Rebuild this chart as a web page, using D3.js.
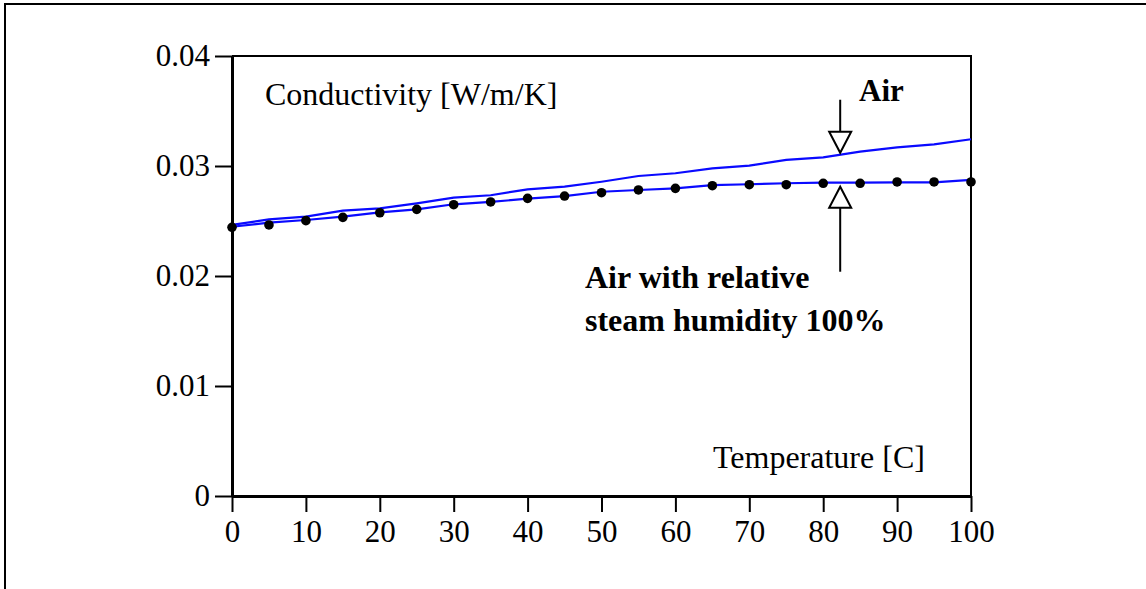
<!DOCTYPE html>
<html>
<head>
<meta charset="utf-8">
<script src="https://cdn.jsdelivr.net/npm/d3@7"></script>
<style>
  body { margin: 0; background: #fff; }
  svg { display: block; }
  text { font-family: "Liberation Serif", "Times New Roman", serif; fill: #000; }
</style>
</head>
<body>
<svg id="chart"></svg>
<script>
// Constants
const width = 1146, height = 589;

// Data (temperature in C, conductivity in W/m/K)
const temperatures = [0, 5, 10, 15, 20, 25, 30, 35, 40, 45, 50, 55, 60, 65, 70, 75, 80, 85, 90, 95, 100];
const airValues = [0.02464, 0.02515, 0.02539, 0.02594, 0.02615, 0.02661, 0.02712, 0.02734, 0.02788, 0.02812,
    0.02857, 0.02909, 0.02934, 0.02979, 0.03003, 0.03055, 0.03079, 0.03130, 0.03170, 0.03197, 0.03243];
const humidValues = [0.02448, 0.02485, 0.02509, 0.02539, 0.02579, 0.02606, 0.02652, 0.02673, 0.02703, 0.02727,
    0.02766, 0.02782, 0.02797, 0.02827, 0.02834, 0.02843, 0.02848, 0.02848, 0.02852, 0.02852, 0.02873];
const humidPoints = [0.02443, 0.02464, 0.02503, 0.02533, 0.02575, 0.02606, 0.02648, 0.02673, 0.02706, 0.02727,
    0.02757, 0.02782, 0.02797, 0.02821, 0.02830, 0.02830, 0.02843, 0.02843, 0.02855, 0.02855, 0.02855];
const xTicks = [0, 10, 20, 30, 40, 50, 60, 70, 80, 90, 100];
const yTicks = [0, 0.01, 0.02, 0.03, 0.04];
const arrowTemp = 82.3;

const svg = d3.select("#chart")
    .attr("width", width)
    .attr("height", height);

// outer frame (runs off the right and bottom edges)
svg.append("rect")
    .attr("x", 5).attr("y", 4)
    .attr("width", width + 20).attr("height", height + 20)
    .attr("fill", "none")
    .attr("stroke", "#000")
    .attr("stroke-width", 2);

const x = d3.scaleLinear().domain([0, 100]).range([232, 971]);
const y = d3.scaleLinear().domain([0, 0.04]).range([496, 56]);

// top and right border of the plot box
svg.append("path")
    .attr("d", `M${x(0)},${y(0.04)}H${x(100)}V${y(0)}`)
    .attr("fill", "none")
    .attr("stroke", "#000")
    .attr("stroke-width", 2);

// axes
const xAxis = svg.append("g")
    .attr("transform", `translate(0,${y(0)})`)
    .call(d3.axisBottom(x).tickValues(xTicks).tickSize(16).tickSizeOuter(0).tickPadding(8));

const yAxis = svg.append("g")
    .attr("transform", `translate(${x(0)},0)`)
    .call(d3.axisLeft(y).tickValues(yTicks).tickFormat(d => d).tickSize(17).tickSizeOuter(0).tickPadding(5));

[xAxis, yAxis].forEach(g => {
    g.select(".domain").attr("stroke", "#000").attr("stroke-width", 3);
    g.selectAll(".tick line").attr("stroke", "#000").attr("stroke-width", 2);
    g.selectAll(".tick text")
        .attr("fill", "#000")
        .style("font-family", "'Liberation Serif', 'Times New Roman', serif")
        .style("font-size", "31px");
});

// curves
const line = d3.line()
    .x((d, i) => x(temperatures[i]))
    .y(d => y(d));

svg.append("path")
    .datum(airValues)
    .attr("d", line)
    .attr("fill", "none")
    .attr("stroke", "#0a0aff")
    .attr("stroke-width", 2.2);

svg.append("path")
    .datum(humidValues)
    .attr("d", line)
    .attr("fill", "none")
    .attr("stroke", "#0a0aff")
    .attr("stroke-width", 2.2);

svg.append("g")
    .selectAll("circle")
    .data(humidPoints)
    .join("circle")
    .attr("cx", (d, i) => x(temperatures[i]))
    .attr("cy", d => y(d))
    .attr("r", 4.8)
    .attr("fill", "#000");

// labels
svg.append("text")
    .attr("x", 265).attr("y", 105)
    .style("font-size", "32px")
    .text("Conductivity [W/m/K]");

svg.append("text")
    .attr("x", 713).attr("y", 468)
    .style("font-size", "32px")
    .text("Temperature [C]");

svg.append("text")
    .attr("x", 859).attr("y", 101)
    .style("font-size", "31px")
    .style("font-weight", "bold")
    .text("Air");

svg.append("text")
    .attr("x", 585).attr("y", 288)
    .style("font-size", "32px")
    .style("font-weight", "bold")
    .text("Air with relative");

svg.append("text")
    .attr("x", 585).attr("y", 331)
    .style("font-size", "32px")
    .style("font-weight", "bold")
    .text("steam humidity 100%");

// hollow arrows pointing at the two curves
const ax = x(arrowTemp);
const airAt = y(d3.interpolateNumber(airValues[16], airValues[17])((arrowTemp - 80) / 5));
const humidAt = y(d3.interpolateNumber(humidValues[16], humidValues[17])((arrowTemp - 80) / 5));

function arrow(tipY, dir, stemLen) {
    // dir = 1 points down, -1 points up
    const baseY = tipY - dir * 21;
    const g = svg.append("g");
    g.append("line")
        .attr("x1", ax).attr("x2", ax)
        .attr("y1", baseY).attr("y2", baseY - dir * stemLen)
        .attr("stroke", "#000").attr("stroke-width", 2);
    g.append("path")
        .attr("d", `M${ax - 11},${baseY}L${ax + 11},${baseY}L${ax},${tipY}Z`)
        .attr("fill", "#fff")
        .attr("stroke", "#000")
        .attr("stroke-width", 2);
}

arrow(airAt - 2, 1, 32);
arrow(humidAt + 4, -1, 64);
</script>
</body>
</html>
